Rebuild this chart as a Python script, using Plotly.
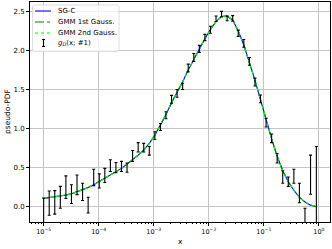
import plotly.graph_objects as go

# x positions (log-spaced bins from 1e-5 to 0.9)
x_vals = [1.000e-05, 1.262e-05, 1.592e-05, 2.009e-05, 2.535e-05, 3.199e-05, 4.036e-05, 5.093e-05,
          6.427e-05, 8.110e-05, 1.023e-04, 1.291e-04, 1.630e-04, 2.056e-04, 2.595e-04, 3.274e-04,
          4.131e-04, 5.213e-04, 6.578e-04, 8.301e-04, 1.047e-03, 1.322e-03, 1.668e-03, 2.105e-03,
          2.656e-03, 3.351e-03, 4.229e-03, 5.336e-03, 6.733e-03, 8.497e-03, 1.072e-02, 1.353e-02,
          1.707e-02, 2.154e-02, 2.718e-02, 3.430e-02, 4.328e-02, 5.461e-02, 6.891e-02, 8.696e-02,
          1.097e-01, 1.385e-01, 1.747e-01, 2.205e-01, 2.782e-01, 3.511e-01, 4.430e-01, 5.590e-01,
          7.054e-01, 9.000e-01]

# g_D(x; #1) measured values and errors
g_vals = [-0.10, 0.045, 0.055, 0.12, 0.25, 0.16, 0.28, 0.19, 0.02, 0.375,
          0.33, 0.40, 0.525, 0.50, 0.515, 0.50, 0.65, 0.76, 0.755, 0.715,
          0.91, 1.02, 1.17, 1.375, 1.45, 1.54, 1.775, 1.91, 2.02, 2.165,
          2.265, 2.405, 2.465, 2.41, 2.41, 2.22, 2.09, 1.86, 1.595, 1.38,
          1.075, 0.875, 0.62, 0.38, 0.32, 0.39, 0.175, -0.22, 0.41, 0.28]
g_errs = [0.21, 0.155, 0.15, 0.14, 0.145, 0.12, 0.125, 0.11, 0.10, 0.105,
          0.09, 0.09, 0.075, 0.065, 0.065, 0.06, 0.07, 0.06, 0.055, 0.055,
          0.05, 0.045, 0.045, 0.05, 0.05, 0.04, 0.05, 0.05, 0.045, 0.04,
          0.045, 0.035, 0.035, 0.03, 0.035, 0.04, 0.05, 0.05, 0.05, 0.05,
          0.055, 0.055, 0.06, 0.08, 0.06, 0.09, 0.125, 0.20, 0.25, 0.49]

# fitted curves
sgc_vals = [0.105, 0.115, 0.125, 0.135, 0.15, 0.165, 0.19, 0.215, 0.245, 0.28,
            0.32, 0.36, 0.40, 0.445, 0.49, 0.545, 0.60, 0.66, 0.725, 0.81,
            0.915, 1.04, 1.18, 1.33, 1.46, 1.60, 1.75, 1.89, 2.02, 2.15,
            2.27, 2.37, 2.435, 2.44, 2.39, 2.25, 2.07, 1.86, 1.62, 1.37,
            1.11, 0.87, 0.645, 0.46, 0.32, 0.21, 0.12, 0.06, 0.02, 0.0]
gmm1_vals = sgc_vals
gmm2_vals = sgc_vals

series_names = ["SG-C", "GMM 1st Gauss.", "GMM 2nd Gauss.", "<i>g</i><sub><i>D</i></sub>(x; #1)"]

xtick_vals = [1e-5, 1e-4, 1e-3, 1e-2, 1e-1, 1e0]
xtick_text = ["10<sup>−5</sup>", "10<sup>−4</sup>", "10<sup>−3</sup>", "10<sup>−2</sup>",
              "10<sup>−1</sup>", "10<sup>0</sup>"]
ytick_vals = [0.0, 0.5, 1.0, 1.5, 2.0, 2.5]

minor_vals = []
for d in range(-6, 1):
    for m in range(2, 10):
        minor_vals.append(m * 10 ** d)

W, H = 332, 249
ML, MR, MT, MB = 30, 2, 2, 27
PW, PH = W - ML - MR, H - MT - MB


def px(xp):
    return (xp - ML) / PW


def py(yp):
    return (H - MB - yp) / PH


line_styles = [dict(color="#0000ff", width=1.1),
               dict(color="#008000", width=1.1, dash="dashdot"),
               dict(color="#00ff00", width=1.1, dash="dot")]

fig = go.Figure()
for name, vals, ls in zip(series_names[:3], [sgc_vals, gmm1_vals, gmm2_vals], line_styles):
    fig.add_trace(go.Scatter(x=x_vals, y=vals, mode="lines", name=name, line=ls,
                             showlegend=False))
fig.add_trace(go.Scatter(x=x_vals, y=g_vals, mode="markers", showlegend=False,
                         name=series_names[3],
                         marker=dict(size=1, color="rgba(0,0,0,0)"),
                         error_y=dict(type="data", array=g_errs, color="black",
                                      thickness=1.1, width=1.5)))

# manual legend (matplotlib style)
shapes = []
annotations = []
lx0, lx1, ly0, ly1 = 32.5, 119, 5, 51.5
r = 2
path = (f"M {px(lx0 + r)} {py(ly0)} L {px(lx1 - r)} {py(ly0)} "
        f"Q {px(lx1)} {py(ly0)} {px(lx1)} {py(ly0 + r)} L {px(lx1)} {py(ly1 - r)} "
        f"Q {px(lx1)} {py(ly1)} {px(lx1 - r)} {py(ly1)} L {px(lx0 + r)} {py(ly1)} "
        f"Q {px(lx0)} {py(ly1)} {px(lx0)} {py(ly1 - r)} L {px(lx0)} {py(ly0 + r)} "
        f"Q {px(lx0)} {py(ly0)} {px(lx0 + r)} {py(ly0)} Z")
shapes.append(dict(type="path", xref="paper", yref="paper", path=path,
                   fillcolor="rgba(255,255,255,0.8)", line=dict(color="#d6d6d6", width=0.8),
                   layer="above"))
row_y = [11, 22, 33, 43]
for i, ls in enumerate(line_styles):
    shapes.append(dict(type="line", xref="paper", yref="paper",
                       x0=px(35), x1=px(51), y0=py(row_y[i]), y1=py(row_y[i]),
                       line=ls, layer="above"))
# error bar glyph
shapes.append(dict(type="line", xref="paper", yref="paper", x0=px(43.5), x1=px(43.5),
                   y0=py(39.5), y1=py(46.5), line=dict(color="black", width=1.1), layer="above"))
for yy in (39.5, 46.5):
    shapes.append(dict(type="line", xref="paper", yref="paper", x0=px(42), x1=px(45),
                       y0=py(yy), y1=py(yy), line=dict(color="black", width=1.1), layer="above"))
for i, name in enumerate(series_names):
    annotations.append(dict(xref="paper", yref="paper", x=px(56), y=py(row_y[i]),
                            xanchor="left", yanchor="middle", text=name, showarrow=False,
                            font=dict(size=7, color="black")))

# axis titles
annotations.append(dict(xref="paper", yref="paper", x=px(180), y=py(241), text="x",
                        showarrow=False, xanchor="center", yanchor="middle",
                        font=dict(size=7.5)))
annotations.append(dict(xref="paper", yref="paper", x=px(7), y=py(112), text="pseudo-PDF",
                        showarrow=False, xanchor="center", yanchor="middle", textangle=-90,
                        font=dict(size=7.5)))

fig.update_layout(
    width=W, height=H,
    margin=dict(l=ML, r=MR, t=MT, b=MB, autoexpand=False),
    paper_bgcolor="white", plot_bgcolor="white",
    font=dict(family="DejaVu Sans", size=7, color="black"),
    showlegend=False,
    shapes=shapes, annotations=annotations,
)
fig.update_xaxes(type="log", range=[-5.248, 0.202], automargin=False,
                 tickvals=xtick_vals, ticktext=xtick_text,
                 ticks="outside", ticklen=3, tickwidth=0.8, tickcolor="black",
                 tickfont=dict(size=6.5),
                 showgrid=True, gridcolor="#c4c4c4", gridwidth=0.8,
                 showline=True, linecolor="black", linewidth=0.8, mirror=True,
                 zeroline=False,
                 minor=dict(tickvals=minor_vals, ticks="outside", ticklen=1.5,
                            tickcolor="black", tickwidth=0.6, showgrid=False))
fig.update_yaxes(range=[-0.196, 2.62], tickvals=ytick_vals, tickformat=".1f",
                 automargin=False,
                 ticks="outside", ticklen=3, tickwidth=0.8, tickcolor="black",
                 tickfont=dict(size=7),
                 showgrid=True, gridcolor="#c4c4c4", gridwidth=0.8,
                 showline=True, linecolor="black", linewidth=0.8, mirror=True,
                 zeroline=False)

fig.write_html("out.html", config={"displayModeBar": False},
               post_script="document.body.style.margin='0';")
